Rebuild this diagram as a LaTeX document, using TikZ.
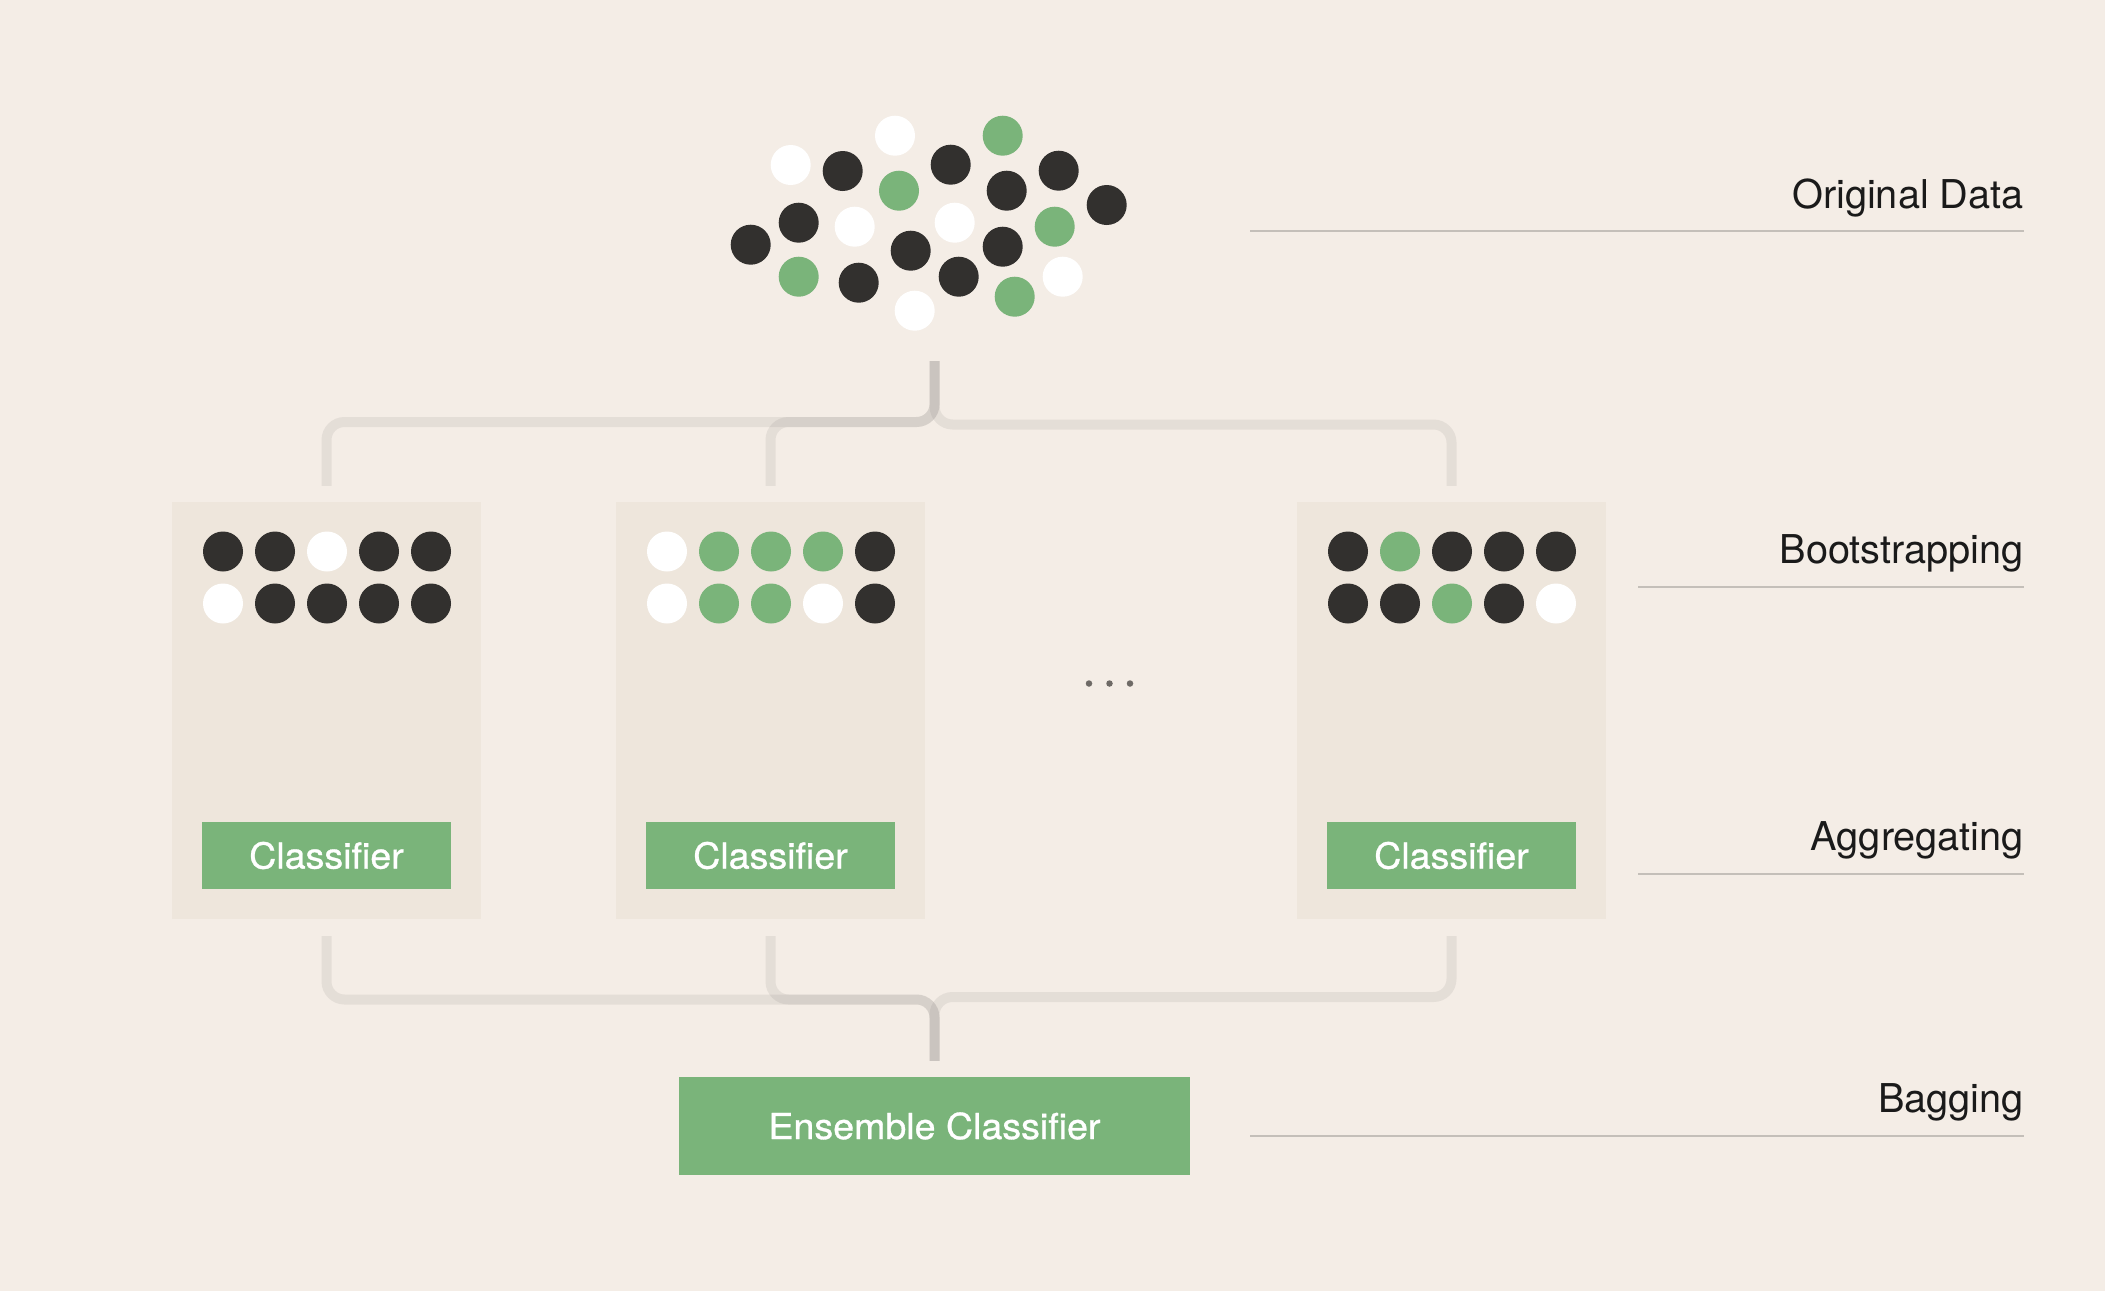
\documentclass[tikz,border=0pt]{standalone}
\usepackage{fontspec}
\setmainfont{TeX Gyre Heros}
\newfontfamily\btnfont[FakeBold=0.9,FakeStretch=1.05]{TeX Gyre Heros}
\usetikzlibrary{calc}
\definecolor{bg}{HTML}{F4EDE6}
\definecolor{panel}{HTML}{EEE6DC}
\definecolor{leaf}{HTML}{7AB47A}
\definecolor{ink}{HTML}{32302E}
\definecolor{rulec}{HTML}{C4BFB9}
\definecolor{connc}{HTML}{787370}
\definecolor{txt}{HTML}{1A1A1A}
\definecolor{ell}{HTML}{6E6A66}
\begin{document}
\begin{tikzpicture}[x=1pt,y=-1pt,
 dot/.style={circle,inner sep=0pt,minimum size=40pt},
 dotdk/.style={dot,fill=ink},
 dotwh/.style={dot,fill=white},
 dotgr/.style={dot,fill=leaf},
 ellpt/.style={circle,inner sep=0pt,minimum size=6.5pt,fill=ell},
 panelbox/.style={rectangle,fill=panel,minimum width=309pt,minimum height=417pt,inner sep=0pt},
 clfbox/.style={rectangle,fill=leaf,inner sep=0pt,text=white,font=\btnfont\fontsize{35.8}{36}\selectfont},
 conn/.style={draw=connc,draw opacity=0.12,line width=10pt,rounded corners=18pt},
 steplabel/.style={anchor=base east,text=txt,inner sep=0pt,font=\fontsize{39.7}{40}\selectfont},
 guideline/.style={draw=rulec,line width=2pt}
]
\fill[bg] (0,0) rectangle (2105,1291);
\useasboundingbox (0,0) rectangle (2105,1291);

% original data cluster
\node[dotwh] (d1) at (790.7,165) {};
\node[dotdk] (d2) at (842.7,171) {};
\node[dotwh] (d3) at (895,135.7) {};
\node[dotgr] (d4) at (899,190.7) {};
\node[dotdk] (d5) at (950.7,164.7) {};
\node[dotgr] (d6) at (1002.7,135.7) {};
\node[dotdk] (d7) at (1006.7,190.7) {};
\node[dotdk] (d8) at (1058.7,170.7) {};
\node[dotdk] (d9) at (1106.7,205) {};
\node[dotdk] (d10) at (798.7,222.7) {};
\node[dotwh] (d11) at (854.7,226.7) {};
\node[dotwh] (d12) at (954.7,222.7) {};
\node[dotgr] (d13) at (1054.7,226.7) {};
\node[dotdk] (d14) at (750.7,244.7) {};
\node[dotdk] (d15) at (910.7,250.7) {};
\node[dotdk] (d16) at (1002.7,246.7) {};
\node[dotgr] (d17) at (798.7,276.7) {};
\node[dotdk] (d18) at (858.7,282.7) {};
\node[dotdk] (d19) at (958.7,276.7) {};
\node[dotwh] (d20) at (1062.7,276.7) {};
\node[dotgr] (d21) at (1014.7,296.7) {};
\node[dotwh] (d22) at (914.7,310.7) {};

% panels
\node[panelbox] (boxA) at (326.5,710.5) {};
\node[panelbox] (boxB) at (770.5,710.5) {};
\node[panelbox] (boxC) at (1451.5,710.5) {};

\foreach \nm/\rA/\rB in {A/{dotdk,dotdk,dotwh,dotdk,dotdk}/{dotwh,dotdk,dotdk,dotdk,dotdk},
                         B/{dotwh,dotgr,dotgr,dotgr,dotdk}/{dotwh,dotgr,dotgr,dotwh,dotdk},
                         C/{dotdk,dotgr,dotdk,dotdk,dotdk}/{dotdk,dotdk,dotgr,dotdk,dotwh}}{
  \foreach \c [count=\j] in \rA {
    \node[\c] (s\nm-1-\j) at ($(box\nm.north)+(-155.5+\j*52,49.7)$) {};
  }
  \foreach \c [count=\j] in \rB {
    \node[\c] (s\nm-2-\j) at ($(box\nm.north)+(-155.5+\j*52,101.7)$) {};
  }
  \node[clfbox,minimum width=248.7pt,minimum height=67.3pt] (clf\nm) at ($(box\nm.north)+(0,353.7)$) {Classifier};
}

% ellipsis
\node[ellpt] (e1) at (1089,683.5) {};
\node[ellpt] (e2) at (1109.5,683.5) {};
\node[ellpt] (e3) at (1130,683.5) {};

% ensemble
\node[clfbox,minimum width=511pt,minimum height=98pt] (ens) at (934.5,1126) {Ensemble Classifier};

% connectors
\coordinate (topsrc) at (934.6,361);
\coordinate (botsnk) at ([yshift=16pt]ens.north);
\draw[conn] (topsrc) -- (topsrc |- 0,422) -- (boxA.north |- 0,422) -- ([yshift=16pt]boxA.north);
\draw[conn] (topsrc) -- (topsrc |- 0,422) -- (boxB.north |- 0,422) -- ([yshift=16pt]boxB.north);
\draw[conn] (topsrc) -- (topsrc |- 0,424.5) -- (boxC.north |- 0,424.5) -- ([yshift=16pt]boxC.north);
\draw[conn] ([yshift=-17pt]boxA.south) -- (boxA.south |- 0,999.5) -- (botsnk |- 0,999.5) -- (botsnk);
\draw[conn] ([yshift=-17pt]boxB.south) -- (boxB.south |- 0,999.5) -- (botsnk |- 0,999.5) -- (botsnk);
\draw[conn] ([yshift=-17pt]boxC.south) -- (boxC.south |- 0,997) -- (botsnk |- 0,997) -- (botsnk);

% stage labels
\node[steplabel] (lOrig) at (2024,208.3) {Original Data};
\node[steplabel] (lBoot) at (2024,563.3) {Bootstrapping};
\node[steplabel] (lAggr) at (2024,850) {Aggregating};
\node[steplabel] (lBagg) at (2024,1112) {Bagging};
\coordinate (g1a) at (1250,231); \coordinate (g1b) at (2024,231);
\coordinate (g2a) at (1638,587.3); \coordinate (g2b) at (2024,587.3);
\coordinate (g3a) at (1638,874); \coordinate (g3b) at (2024,874);
\coordinate (g4a) at (1250,1136); \coordinate (g4b) at (2024,1136);
\draw[guideline] (g1a) -- (g1b);
\draw[guideline] (g2a) -- (g2b);
\draw[guideline] (g3a) -- (g3b);
\draw[guideline] (g4a) -- (g4b);
\end{tikzpicture}
\end{document}
